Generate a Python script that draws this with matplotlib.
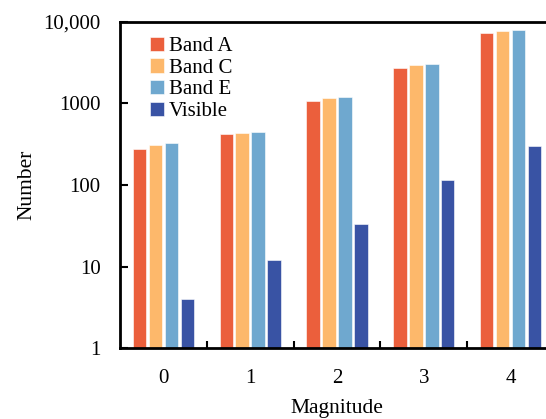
import matplotlib
matplotlib.use("Agg")
import matplotlib.pyplot as plt
import numpy as np
from matplotlib.ticker import FixedLocator, FuncFormatter

categories = ["0", "1", "2", "3", "4"]
series_names = ["Band A", "Band C", "Band E", "Visible"]
band_a = [277, 418, 1080, 2750, 7250]
band_c = [310, 430, 1170, 2940, 7700]
band_e = [330, 451, 1200, 3050, 7900]
visible = [4, 12, 33, 114, 298]
colors = ["#EB5F3C", "#FDB86B", "#6FA8CF", "#3953A4"]
ytick_vals = [1, 10, 100, 1000, 10000]
ytick_labels = ["1", "10", "100", "1000", "10,000"]

plt.rcParams["font.family"] = ["Liberation Serif", "DejaVu Serif"]

fig = plt.figure(figsize=(5.46, 4.19), dpi=100)
ax = fig.add_axes([120/546, (419-348)/419, (554-120)/546, (348-22)/419])

x = np.arange(len(categories))
pitch = 0.184
width = 0.155
for i, (name, vals) in enumerate(zip(series_names, [band_a, band_c, band_e, visible])):
    ax.bar(x + (i - 1.5) * pitch, vals, width=width, color=colors[i],
           edgecolor="white", linewidth=0.4, label=name, zorder=2)

ax.set_yscale("log")
ax.set_ylim(1, 10000)
ax.set_xlim(-0.5, 4.5)
ax.yaxis.set_major_locator(FixedLocator(ytick_vals))
ax.yaxis.set_major_formatter(FuncFormatter(lambda v, p: ytick_labels[ytick_vals.index(int(round(v)))] if int(round(v)) in ytick_vals else ""))
ax.yaxis.set_minor_locator(FixedLocator([]))
ax.set_xticks(x)
ax.set_xticklabels(categories)
ax.set_xticks(np.arange(0.5, 4.0, 1.0), minor=True)
ax.tick_params(axis="x", which="major", length=0, pad=15, labelsize=15)
ax.tick_params(axis="x", which="minor", direction="in", length=5, width=1.5)
ax.tick_params(axis="y", which="major", direction="in", length=6, width=1.5, pad=14, labelsize=15)

for s in ["left", "bottom", "top", "right"]:
    ax.spines[s].set_linewidth(2)
    ax.spines[s].set_color("black")

ax.set_xlabel("Magnitude", fontsize=15.5, labelpad=8)
ax.set_ylabel("Number", fontsize=15.5, labelpad=5)

leg = ax.legend(loc="upper left", bbox_to_anchor=(0.035, 1.0), frameon=False,
                fontsize=15, handlelength=0.7, handleheight=0.7, handletextpad=0.2,
                labelspacing=0.1, borderaxespad=0.3)

fig.savefig("out.png", dpi=100)
